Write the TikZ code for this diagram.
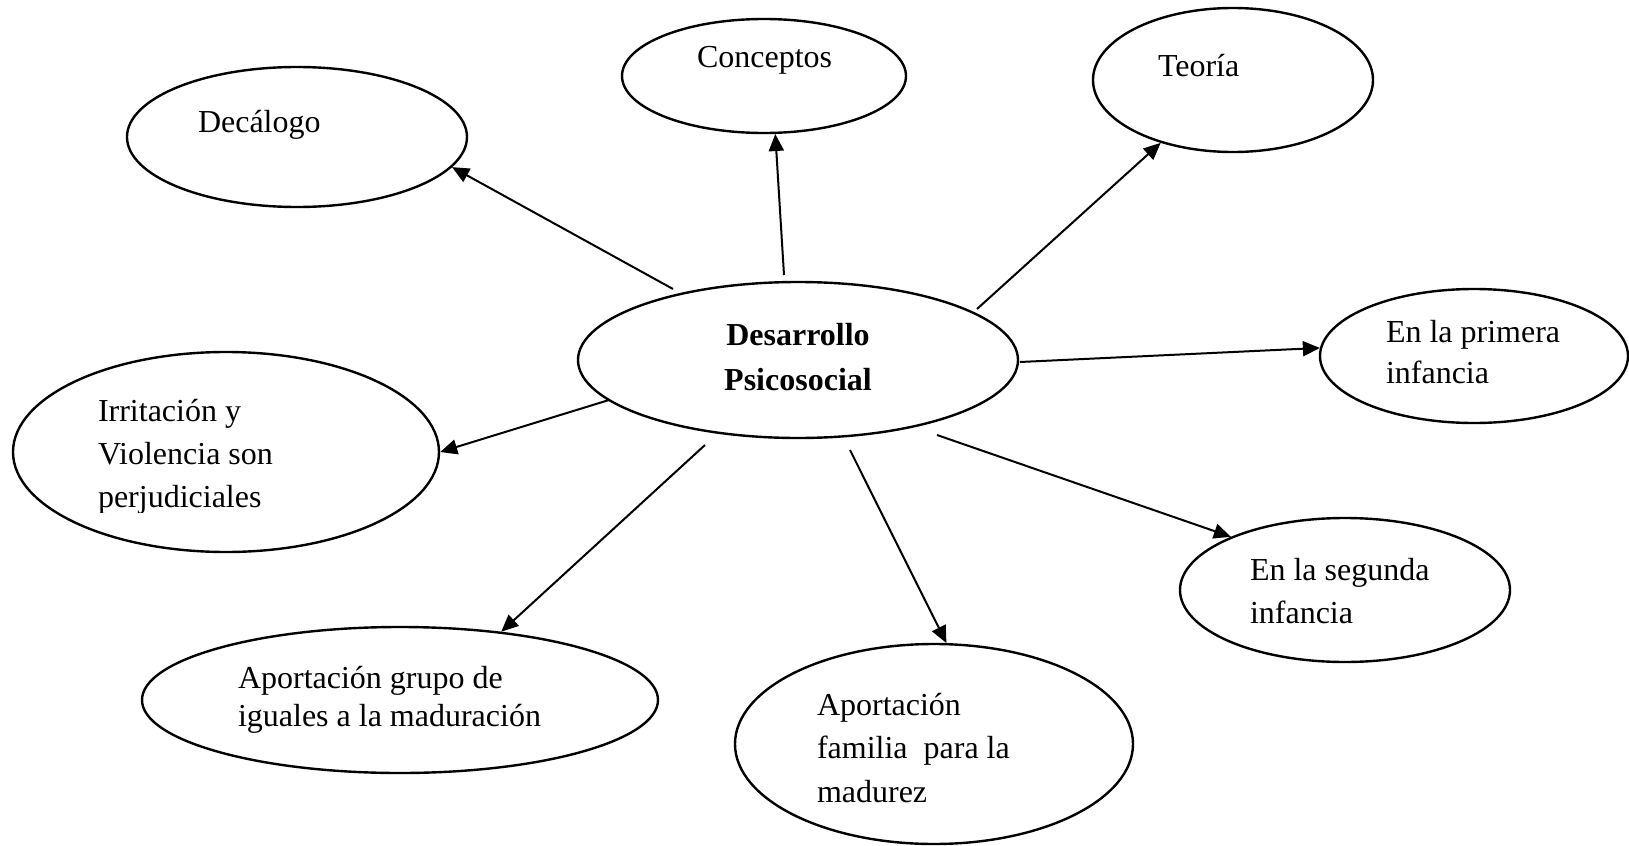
\documentclass[tikz,border=0pt]{standalone}
\usepackage{fontspec}
\setmainfont{Liberation Serif}
\usetikzlibrary{arrows.meta,shapes.geometric}
\tikzset{
  bubble/.style={draw, ellipse, line width=1.2pt, inner sep=0pt},
  lbl/.style={inner sep=0pt, outer sep=0pt, anchor=base west, align=left},
  arr/.style={line width=1pt, -{Triangle[length=8.5pt,width=7.5pt]}},
}
\begin{document}
\begin{tikzpicture}[x=0.5pt,y=-0.5pt]
\useasboundingbox (0,0) rectangle (1629,846);
% ellipses
\node[bubble, minimum width=170pt, minimum height=70pt] (dec) at (297,137) {};
\node[bubble, minimum width=142pt, minimum height=57pt] (con) at (764,76) {};
\node[bubble, minimum width=140pt, minimum height=72pt] (teo) at (1233,80) {};
\node[bubble, minimum width=220pt, minimum height=78pt] (cen) at (798,360) {};
\node[bubble, minimum width=154pt, minimum height=67pt] (pri) at (1474,356) {};
\node[bubble, minimum width=213pt, minimum height=100pt] (irr) at (226,452) {};
\node[bubble, minimum width=165pt, minimum height=72pt] (seg) at (1345,590) {};
\node[bubble, minimum width=258pt, minimum height=73pt] (gru) at (400,700) {};
\node[bubble, minimum width=199pt, minimum height=100pt] (fam) at (934,744) {};
% texts (multi-line nodes: base = last line baseline)
\node[lbl, font=\fontsize{16}{21.5}\selectfont] (tdec) at (198,132) {Decálogo};
\node[lbl, font=\fontsize{16}{21.5}\selectfont] (tcon) at (697,68) {Conceptos};
\node[lbl, font=\fontsize{16}{21.5}\selectfont] (tteo) at (1158,76) {Teoría};
\node[inner sep=0pt, anchor=base, align=center, font=\fontsize{16}{22.5}\selectfont\bfseries] (tcen) at (798,390) {Desarrollo\\Psicosocial};
\node[lbl, font=\fontsize{16}{20.5}\selectfont] (tpri) at (1386,383) {En la primera\\infancia};
\begin{scope}
\clip (0,330) rectangle (450,512);
\node[lbl, font=\fontsize{16}{21.5}\selectfont] (tirr) at (98,507) {Irritación y\\Violencia son\\perjudiciales};
\end{scope}
\node[lbl, font=\fontsize{16}{21.5}\selectfont] (tseg) at (1250,623) {En la segunda\\infancia};
\node[lbl, font=\fontsize{16}{21.75}\selectfont] (tfam) at (817,802) {Aportación\\familia\ \ para la\\madurez};
\node[lbl, font=\fontsize{16}{19}\selectfont] (tgru) at (238,726) {Aportación grupo de\\iguales a la maduración};
% arrow starts
\coordinate (s1) at (673,289);
\coordinate (s2) at (784,275);
\coordinate (s3) at (977,309);
\coordinate (s4) at (1020,362);
\coordinate (s5) at (937,435);
\coordinate (s6) at (850,450);
\coordinate (s7) at (705,445);
\coordinate (s8) at (609,400);
% arrows
\draw[arr] (s1) -- (dec.-11);
\draw[arr] (s2) -- (con.-79.4);
\draw[arr] (s3) -- (teo.221.7);
\draw[arr] (s4) -- (pri.177.8);
\draw[arr] (s5) -- (seg.155.5);
\draw[arr] (s6) -- (fam.83.8);
\draw[arr] (s7) -- (gru.34.6);
\draw[arr] (s8) -- (irr.0.3);
\end{tikzpicture}
\end{document}
